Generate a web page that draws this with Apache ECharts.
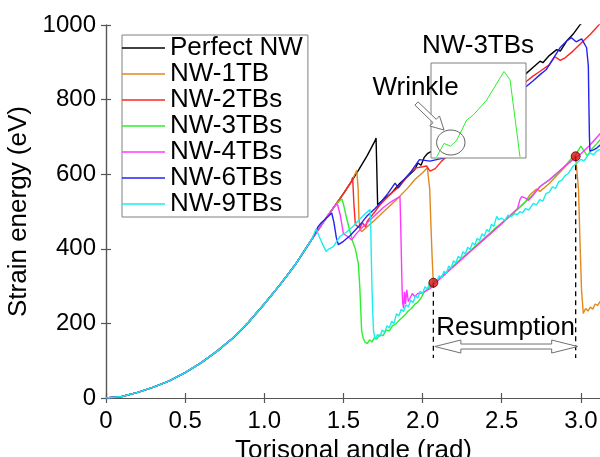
<!DOCTYPE html>
<html>
<head>
<meta charset="utf-8">
<script src="https://cdn.jsdelivr.net/npm/echarts@6/dist/echarts.min.js"></script>
<style>html,body{margin:0;padding:0;background:#fff}#c{width:600px;height:457px}</style>
</head>
<body>
<div id="c"></div>
<script>
// ---------------- DATA ----------------
const seriesNames = ['Perfect NW','NW-1TB','NW-2TBs','NW-3TBs','NW-4TBs','NW-6TBs','NW-9TBs'];
const xTicks = [0,0.5,1.0,1.5,2.0,2.5,3.0];
const yTicks = [0,200,400,600,800,1000];

// common elastic part shared by all nanowires (x rad, y eV)
const baseCurve = [[0,0],[0.1,4],[0.2,15],[0.3,29],[0.4,46],[0.5,68],[0.6,94],[0.7,125],[0.8,160],[0.9,203],[1.0,252],[1.1,304],[1.2,360],[1.3,425],[1.35,457],[1.4,488],[1.45,518],[1.5,548],[1.55,580],[1.6,614],[1.65,650],[1.7,690]];

const tailPerfect = [[1.706,697],[1.716,518],[1.76,535],[1.8,548],[1.857,576],[1.9,592],[1.95,612],[1.97,630],[1.99,624],[2.01,645],[2.03,655],[2.1,672],[2.2,706],[2.3,741],[2.4,776],[2.5,811],[2.6,850],[2.657,871],[2.697,886],[2.742,903],[2.76,899],[2.8,918],[2.847,934],[2.87,930],[2.91,957],[2.95,975],[2.995,1001],[3.05,1020]];

const tail1TB = [[1.584,610],[1.593,560],[1.598,480],[1.605,452],[1.615,446],[1.625,451],[1.7,478],[1.75,498],[1.836,532],[1.9,560],[1.95,585],[2.0,604],[2.03,617],[2.04,614],[2.045,560],[2.052,470],[2.06,380],[2.066,325],[2.068,309],[2.1,318],[2.2,355],[2.3,393],[2.4,430],[2.5,468],[2.6,506],[2.65,526],[2.678,545],[2.72,560],[2.742,554],[2.8,575],[2.9,620],[2.967,648],[2.985,558],[2.994,424],[3.004,290],[3.015,227],[3.03,240],[3.045,233],[3.06,244],[3.075,238],[3.09,252],[3.105,248],[3.127,262]];

const tail2TBs = [[1.558,592],[1.566,520],[1.575,465],[1.59,460],[1.604,456],[1.62,470],[1.64,458],[1.65,474],[1.7,500],[1.731,518],[1.8,548],[1.86,570],[1.92,603],[1.96,617],[2.0,620],[2.025,622],[2.047,608],[2.08,615],[2.12,635],[2.2,665],[2.3,700],[2.4,740],[2.5,780],[2.6,825],[2.657,849],[2.697,863],[2.742,876],[2.8,893],[2.836,915],[2.87,905],[2.9,912],[2.95,930],[3.015,957],[3.06,975],[3.12,1003]];

const tail3TBs = [[1.489,534],[1.50,520],[1.52,482],[1.545,440],[1.562,415],[1.575,400],[1.594,360],[1.603,300],[1.61,230],[1.615,180],[1.625,160],[1.636,150],[1.65,146],[1.665,156],[1.68,150],[1.695,162],[1.71,158],[1.73,170],[1.75,167],[1.77,182],[1.79,180],[1.81,194],[1.83,198],[1.85,208],[1.87,215],[1.89,223],[1.91,234],[1.93,240],[1.95,251],[1.97,257],[1.99,268],[2.01,284],[2.03,291],[2.05,300],[2.068,308],[2.1,318],[2.15,338],[2.2,356],[2.25,376],[2.3,394],[2.35,414],[2.4,432],[2.45,452],[2.5,470],[2.55,488],[2.6,506],[2.65,526],[2.7,546],[2.742,567],[2.8,584],[2.85,602],[2.9,622],[2.94,642],[2.967,652],[2.98,662],[3.0,675],[3.02,662],[3.04,650],[3.07,668],[3.1,682],[3.127,695]];

const tail4TBs = [[1.463,518],[1.48,490],[1.50,440],[1.52,435],[1.552,424],[1.58,440],[1.62,458],[1.7,490],[1.75,510],[1.8,526],[1.84,536],[1.857,540],[1.862,460],[1.866,380],[1.87,300],[1.874,255],[1.88,240],[1.886,285],[1.892,252],[1.9,290],[1.91,258],[1.92,263],[1.935,280],[1.95,272],[1.97,280],[2.0,282],[2.047,293],[2.068,305],[2.1,316],[2.2,354],[2.3,392],[2.4,430],[2.5,467],[2.6,508],[2.615,532],[2.626,540],[2.65,536],[2.67,530],[2.7,545],[2.742,567],[2.8,585],[2.9,622],[2.95,639],[3.0,655],[3.05,675],[3.127,711]];

const tail6TBs = [[1.341,460],[1.36,470],[1.40,485],[1.426,496],[1.44,470],[1.455,430],[1.468,411],[1.50,420],[1.541,435],[1.6,462],[1.647,487],[1.7,508],[1.731,522],[1.78,548],[1.826,576],[1.847,563],[1.87,580],[1.92,603],[1.98,639],[2.047,635],[2.13,643],[2.2,675],[2.3,715],[2.4,755],[2.5,790],[2.6,820],[2.657,836],[2.697,850],[2.742,867],[2.78,880],[2.868,939],[2.91,957],[2.94,966],[2.97,955],[3.005,963],[3.036,939],[3.047,890],[3.05,800],[3.054,700],[3.057,662],[3.08,665],[3.1,670],[3.127,680]];

const tail9TBs = [[1.327,453],[1.345,435],[1.362,418],[1.39,393],[1.41,400],[1.436,406],[1.478,433],[1.52,445],[1.56,460],[1.6,478],[1.64,495],[1.668,505],[1.672,470],[1.676,380],[1.68,300],[1.685,230],[1.69,180],[1.70,157],[1.715,170],[1.73,165],[1.745,182],[1.76,176],[1.775,194],[1.79,188],[1.805,206],[1.82,200],[1.835,226],[1.85,220],[1.865,238],[1.88,232],[1.895,250],[1.91,244],[1.925,262],[1.94,256],[1.955,274],[1.97,268],[1.985,286],[2.0,280],[2.015,298],[2.03,292],[2.045,308],[2.06,302],[2.075,316],[2.09,312],[2.105,328],[2.12,322],[2.135,340],[2.15,334],[2.165,354],[2.18,348],[2.195,368],[2.21,362],[2.225,380],[2.24,374],[2.255,392],[2.27,386],[2.285,404],[2.3,398],[2.315,416],[2.33,410],[2.345,428],[2.36,422],[2.375,440],[2.39,434],[2.405,452],[2.42,446],[2.435,466],[2.45,460],[2.468,487],[2.48,478],[2.5,482],[2.52,476],[2.54,490],[2.56,486],[2.58,494],[2.6,492],[2.615,500],[2.63,496],[2.65,508],[2.67,504],[2.7,522],[2.72,518],[2.74,532],[2.76,528],[2.78,548],[2.8,552],[2.82,566],[2.84,562],[2.86,580],[2.88,584],[2.9,596],[2.92,602],[2.95,621],[2.97,628],[3.0,640],[3.02,636],[3.057,657],[3.08,652],[3.1,662],[3.127,668]];

// red marker points and dashed guides
const resumeDots = [[2.068,309],[2.967,648]];
const guideBottom = 107;
const resumeArrowY = 138;

// inset (zoomed NW-3TBs peak, local 0-100 units)
const insetCurve = [[5.9,1.1],[13.7,15.3],[20.7,12.4],[27.1,18.8],[37.6,40],[44.5,45.2],[58.6,61],[72.6,84.1],[76.8,91.1],[83.2,82.4],[93.7,1.1]];

const colors = ['#000000','#E0891E','#FF2424','#2EEE2E','#FF38FF','#2222F0','#19EEEE'];
const tails = [tailPerfect, tail1TB, tail2TBs, tail3TBs, tail4TBs, tail6TBs, tail9TBs];

// ---------------- CHART ----------------
const FONT = 'Liberation Sans, Arial, Helvetica, sans-serif';
const AX = '#555';
function withBase(tail){ return baseCurve.filter(p => p[0] < tail[0][0]).concat(tail); }

const chart = echarts.init(document.getElementById('c'), null, {renderer:'canvas'});

const series = seriesNames.map((n,i) => ({
  name: n, type: 'line', data: withBase(tails[i]), xAxisIndex: 0, yAxisIndex: 0,
  symbol: 'none', showSymbol: false, lineStyle: {width: 1.4, color: colors[i]}, itemStyle: {color: colors[i]},
  z: 2, animation: false
}));
resumeDots.forEach((d,i) => series.push({
  name: 'guide'+i, type: 'line', data: [[d[0], d[1]],[d[0], guideBottom]], symbol:'none',
  lineStyle: {color:'#000', width: 1.3, type: [5,4]}, z: 3, animation:false
}));
series.push({name:'dots', type:'scatter', data: resumeDots, symbolSize: 9,
  itemStyle:{color:'#E01010', borderColor:'#500', borderWidth:1}, z: 4, animation:false});
series.push({name:'inset', type:'line', data: insetCurve, xAxisIndex: 2, yAxisIndex: 2, symbol:'none',
  lineStyle:{color: colors[3], width: 1}, z: 6, animation:false});

const axisCommon = {
  axisLine:{show:true, lineStyle:{color:AX, width:1.2}},
  axisTick:{show:true, inside:true, length:5, lineStyle:{color:AX, width:1.2}},
  splitLine:{show:false}
};

const option = {
  backgroundColor: '#fff',
  animation: false,
  textStyle: {fontFamily: FONT},
  grid: [
    {left:106, top:25, width:495, height:373, containLabel:false, outerBoundsMode:'none'},
    {left:431, top:63, width:95, height:95, show:true, backgroundColor:'#fff', borderColor:'#808080', borderWidth:1, z:5, outerBoundsMode:'none'}
  ],
  xAxis: [
    Object.assign({type:'value', gridIndex:0, min:0, max:3.127, interval:0.5, position:'bottom',
      name:'Torisonal angle (rad)', nameLocation:'middle', nameGap:33,
      nameTextStyle:{fontSize:26, color:'#000', fontFamily:FONT},
      axisLabel:{show:true, fontSize:24, color:'#000', margin:11, fontFamily:FONT, showMaxLabel:false,
        formatter: v => xTicks.includes(v) ? (v===0 ? '0' : v.toFixed(1)) : ''}}, axisCommon),
    Object.assign({type:'value', gridIndex:0, min:0, max:3.127, interval:0.5, position:'top',
      axisLabel:{show:false}}, axisCommon),
    {type:'value', gridIndex:1, min:0, max:100, show:false}
  ],
  yAxis: [
    Object.assign({type:'value', gridIndex:0, min:0, max:1000, interval:200, position:'left',
      name:'Strain energy (eV)', nameLocation:'middle', nameGap:67,
      nameTextStyle:{fontSize:26, color:'#000', fontFamily:FONT},
      axisLabel:{show:true, fontSize:24, color:'#000', margin:10, fontFamily:FONT,
        formatter: v => yTicks.includes(v) ? String(v) : ''}}, axisCommon),
    Object.assign({type:'value', gridIndex:0, min:0, max:1000, interval:200, position:'right',
      axisLabel:{show:false}}, axisCommon),
    {type:'value', gridIndex:1, min:0, max:100, show:false}
  ],
  legend: {
    data: seriesNames, orient:'vertical', left:122, top:35,
    icon:'rect', itemWidth:43, itemHeight:1.6, itemGap:0, padding:[0,5,0,0],
    backgroundColor:'#fff', borderColor:'#808080', borderWidth:1,
    textStyle:{fontSize:26, lineHeight:23.45, color:'#000', fontFamily:FONT},
    selectedMode:false, z: 8
  },
  series: series
};
chart.setOption(option);

// ---------------- annotations ----------------
const px = (x,y) => chart.convertToPixel({gridIndex:0}, [x,y]);
function hollowArrow(a, b, headLen, headHalf, shaftHalf){
  const dx=b[0]-a[0], dy=b[1]-a[1], L=Math.hypot(dx,dy), ux=dx/L, uy=dy/L, nx=-uy, ny=ux;
  const bx=a[0]+ux*(L-headLen), by=a[1]+uy*(L-headLen);
  return [[a[0]+nx*shaftHalf, a[1]+ny*shaftHalf],[bx+nx*shaftHalf, by+ny*shaftHalf],[bx+nx*headHalf, by+ny*headHalf],
          [b[0],b[1]],[bx-nx*headHalf, by-ny*headHalf],[bx-nx*shaftHalf, by-ny*shaftHalf],[a[0]-nx*shaftHalf, a[1]-ny*shaftHalf]];
}
const L = px(resumeDots[0][0], resumeArrowY), R = px(resumeDots[1][0], resumeArrowY);
const lx = L[0]+1.5, rx = R[0]+2, ay = L[1], hl = 26, hw = 6.5, sw = 2.5;
const dbl = [[lx,ay],[lx+hl,ay-hw],[lx+hl,ay-sw],[rx-hl,ay-sw],[rx-hl,ay-hw],[rx,ay],[rx-hl,ay+hw],[rx-hl,ay+sw],[lx+hl,ay+sw],[lx+hl,ay+hw]];
const midX = (L[0]+R[0])/2 + 1;

chart.setOption({
  graphic: [
    {type:'polygon', z:10, shape:{points: dbl}, style:{fill:'#fff', stroke:'#707070', lineWidth:1}},
    {type:'text', z:10, x: midX, y: 327.5, style:{text:'Resumption', font:'26px '+FONT, fill:'#000', align:'center', verticalAlign:'middle'}},
    {type:'text', z:10, x: 478, y: 46, style:{text:'NW-3TBs', font:'26px '+FONT, fill:'#000', align:'center', verticalAlign:'middle'}},
    {type:'text', z:10, x: 415.5, y: 87.5, style:{text:'Wrinkle', font:'26px '+FONT, fill:'#000', align:'center', verticalAlign:'middle'}},
    {type:'polygon', z:11, shape:{points: hollowArrow([416.5,103.5],[444,130],13,7,2.3)}, style:{fill:'#fff', stroke:'#707070', lineWidth:1}},
    {type:'ellipse', z:12, shape:{cx:450.8, cy:142.5, rx:14.2, ry:12.5}, style:{fill:'none', stroke:'#606060', lineWidth:1}}
  ]
});
</script>
</body>
</html>
